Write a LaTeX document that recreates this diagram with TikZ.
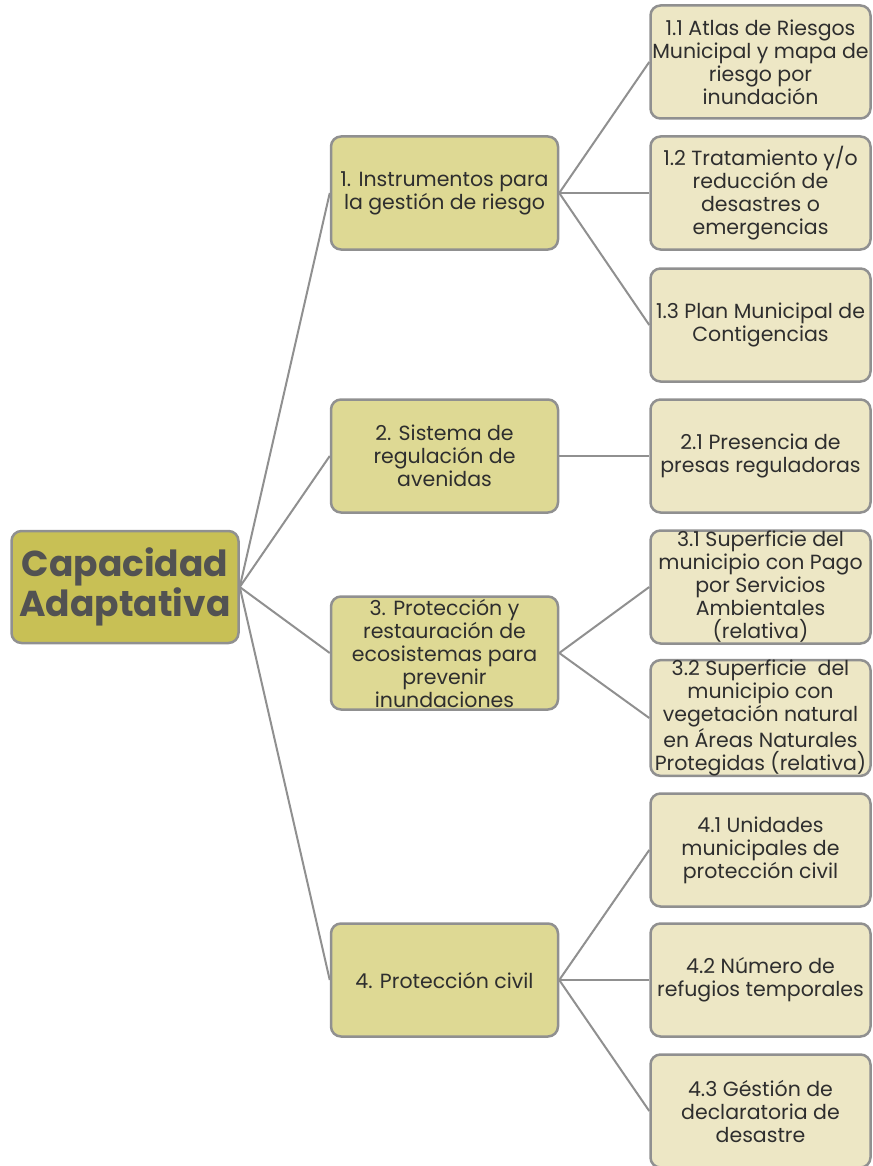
\documentclass[tikz,border=0pt]{standalone}
\usepackage{fontspec}
\setmainfont{Poppins}
\usepackage{tikz}
\usetikzlibrary{positioning}
\definecolor{rootfill}{HTML}{C8C055}
\definecolor{midfill}{HTML}{DED994}
\definecolor{leaffill}{HTML}{EDE7C5}
\definecolor{edgegray}{HTML}{909090}
\definecolor{txtgray}{HTML}{2E2E2E}
\begin{document}
\begin{tikzpicture}[x=1pt, y=-1pt,
  box/.style={draw=edgegray, line width=2.5pt, rounded corners=10pt, inner sep=0pt,
    align=center, text=txtgray, font=\fontsize{20.5}{23}\selectfont},
  rootbox/.style={box, fill=rootfill, minimum width=227pt, minimum height=112pt,
    text=black!68, font=\fontsize{36}{40}\selectfont\bfseries},
  midbox/.style={box, fill=midfill, minimum width=227pt, minimum height=113pt},
  leafbox/.style={box, fill=leaffill, minimum width=220pt, minimum height=113pt},
  link/.style={draw=edgegray, line width=2pt}]
\useasboundingbox (0,0) rectangle (872,1166);
% root
\node[rootbox] (root) at (125,587) {Capacidad\\Adaptativa};
% first level
\node[midbox] (c1) at (444.5,193) {1. Instrumentos para\\la gestión de riesgo};
\node[midbox] (c2) at (444.5,456) {2. Sistema de\\regulación de\\avenidas};
\node[midbox] (c3) at (444.5,653) {3. Protección y\\restauración de\\ecosistemas para\\prevenir\\inundaciones};
\node[midbox] (c4) at (444.5,980) {4. Protección civil};
% second level
\node[leafbox] (c11) at (760.5,62) {1.1 Atlas de Riesgos\\Municipal y mapa de\\riesgo por\\inundación};
\node[leafbox] (c12) at (760.5,193) {1.2 Tratamiento y/o\\reducción de\\desastres o\\emergencias};
\node[leafbox] (c13) at (760.5,325) {1.3 Plan Municipal de\\Contigencias};
\node[leafbox] (c21) at (760.5,456) {2.1 Presencia de\\presas reguladoras};
\node[leafbox] (c31) at (760.5,587) {3.1 Superficie del\\municipio con Pago\\por Servicios\\Ambientales\\(relativa)};
\node[leafbox] (c32) at (760.5,718) {3.2 Superficie\ \ del\\municipio con\\vegetación natural\\en Áreas Naturales\\Protegidas (relativa)};
\node[leafbox] (c41) at (760.5,850) {4.1 Unidades\\municipales de\\protección civil};
\node[leafbox] (c42) at (760.5,980) {4.2 Número de\\refugios temporales};
\node[leafbox] (c43) at (760.5,1111) {4.3 Géstión de\\declaratoria de\\desastre};
% connectors
\foreach \c in {c1,c2,c3,c4}
  \draw[link] (root.east) -- (\c.west);
\foreach \c in {c11,c12,c13}
  \draw[link] (c1.east) -- (\c.west);
\draw[link] (c2.east) -- (c21.west);
\foreach \c in {c31,c32}
  \draw[link] (c3.east) -- (\c.west);
\foreach \c in {c41,c42,c43}
  \draw[link] (c4.east) -- (\c.west);
\end{tikzpicture}
\end{document}
